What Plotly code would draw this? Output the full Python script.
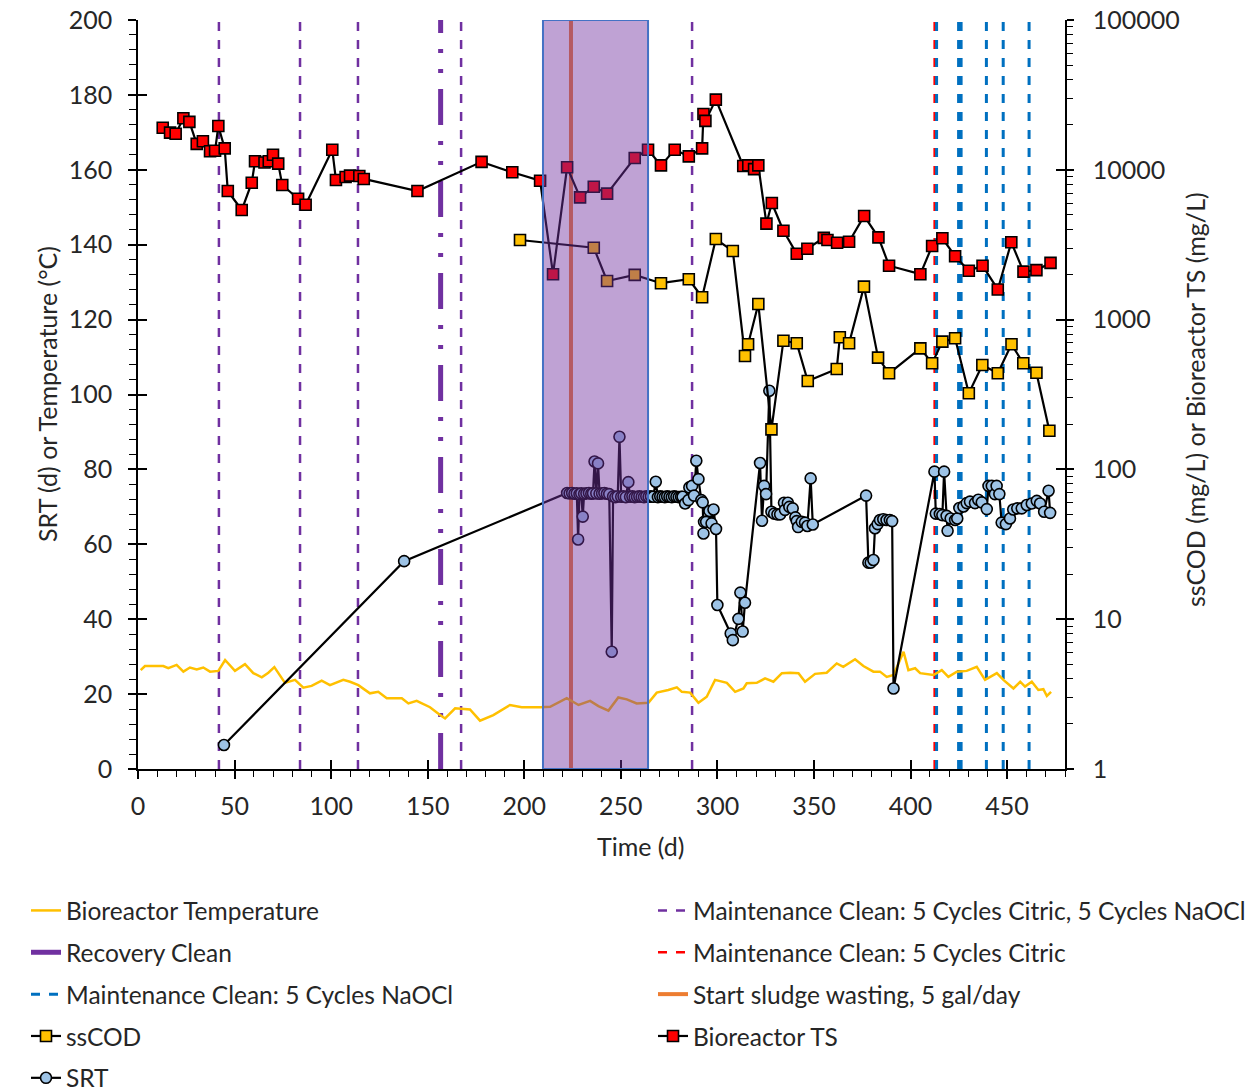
import plotly.graph_objects as go

# ---------------- data ----------------
ts_day = [12.8, 16.6, 19.5, 23.5, 26.6, 30.4, 33.6, 37.3, 39.9, 41.6, 44.9, 46.5, 53.7, 58.9, 60.6,
          65.5, 67.7, 69.9, 72.6, 74.7, 82.9, 86.8, 100.6, 102.5, 107.5, 109.8, 114.6, 116.9, 144.7,
          177.9, 193.8, 208.2, 214.9, 222.2, 228.9, 236.0, 242.9, 257.2, 264.1, 270.8, 277.9, 285.2,
          292.1, 292.8, 293.8, 299.2, 313.4, 316.0, 319.0, 321.2, 325.4, 328.2, 334.2, 341.1, 346.6,
          355.1, 357.0, 362.0, 368.2, 376.0, 383.4, 388.9, 405.1, 411.2, 416.5, 423.1, 430.2, 437.3,
          445.2, 452.2, 458.5, 465.2, 472.5]
ts_val = [19100, 17700, 17400, 22100, 20900, 14900, 15500, 13300, 13400, 19600, 13900, 7220, 5390, 8200, 11400,
          11200, 11400, 12600, 11000, 7920, 6410, 5850, 13600, 8550, 8950, 9140, 9100, 8690, 7220,
          11300, 9620, 8460, 2010, 10400, 6550, 7710, 6930, 12000, 13600, 10700, 13600, 12300,
          13900, 23600, 21200, 29400, 10600, 10700, 10100, 10700, 4370, 6000, 3920, 2750, 2970,
          3510, 3400, 3260, 3310, 4920, 3540, 2290, 2010, 3100, 3490, 2650, 2120, 2290,
          1590, 3280, 2090, 2140, 2390]

cod_day = [197.8, 236.0, 242.9, 257.2, 270.8, 285.2, 292.1, 299.2, 308.0, 314.3, 315.9, 321.2, 328.0,
           334.2, 341.1, 346.8, 361.8, 363.4, 368.2, 375.9, 383.2, 388.9, 405.1, 411.2, 416.5, 423.1,
           430.2, 437.2, 445.2, 452.3, 458.4, 465.2, 471.9]
cod_val = [3400, 3020, 1810, 1990, 1750, 1860, 1410, 3450, 2870, 571, 684, 1270, 185,
           723, 695, 389, 468, 762, 695, 1660, 557, 438, 643, 511, 713, 750,
           322, 498, 438, 684, 511, 442, 181]

srt_day = [44.5, 137.8, 222.2, 223.5, 224.8, 226.0, 227.2, 227.9, 228.6, 229.5, 230.3, 231.0, 232.2, 233.5,
           234.7, 235.6, 236.4, 237.3, 238.2, 239.0, 240.3, 241.5, 242.8, 244.0, 245.3, 246.0, 247.2,
           248.4, 249.3, 250.2, 251.4, 252.6, 253.9, 254.8, 256.0, 257.2, 258.4, 259.6, 260.8, 262.0,
           263.2, 264.4, 265.6, 266.8, 268.1, 269.2, 270.4, 271.6, 272.8, 274.0, 275.2, 276.4, 277.6,
           278.8, 280.0, 281.2, 282.0, 283.3, 285.0, 285.5, 286.9, 287.9, 289.1, 290.2, 291.7, 292.4,
           292.8, 293.1, 294.2, 295.9, 297.0, 298.0, 299.3, 300.0, 306.9, 308.0, 310.9, 311.9, 313.1,
           314.3, 322.1, 323.1, 324.2, 325.2, 326.9, 328.0, 329.4, 331.1, 332.5, 334.5, 335.0, 336.5,
           337.3, 339.0, 340.4, 341.1, 341.8, 343.7, 345.4, 346.6, 348.3, 349.4, 377.0, 378.2, 379.4,
           380.8, 381.6, 383.0, 384.2, 385.9, 387.6, 389.3, 390.5, 391.2, 412.4, 413.1, 415.2, 416.5,
           417.4, 418.7, 419.2, 420.8, 423.1, 424.2, 425.3, 427.4, 429.1, 430.8, 433.4, 435.1, 436.9,
           439.5, 440.4, 442.1, 443.7, 444.6, 446.0, 447.2, 449.4, 451.5, 453.2, 455.3, 457.6, 460.2,
           462.8, 465.4, 467.1, 469.2, 471.5, 472.3]
srt_val = [6.4, 55.5, 73.7, 73.6, 73.7, 73.5, 73.6, 61.3, 73.4, 73.6, 67.4, 73.5, 73.6, 73.7,
           73.5, 73.6, 82.1, 73.6, 81.6, 73.5, 73.6, 73.7, 73.5, 73.4, 31.3, 72.8, 72.6,
           72.8, 88.7, 72.7, 72.8, 72.6, 76.6, 72.7, 72.8, 72.6, 72.7, 72.8, 72.7, 72.6,
           72.8, 72.7, 72.8, 72.7, 76.7, 72.6, 72.8, 72.7, 72.6, 72.8, 72.7, 72.6, 72.8,
           72.7, 72.6, 72.7, 72.7, 70.9, 71.8, 75.2, 75.6, 73.0, 82.3, 77.4, 71.8, 71.2,
           62.9, 66.0, 66.0, 68.9, 65.6, 69.3, 64.1, 43.8, 36.2, 34.4, 40.1, 47.1, 36.7,
           44.4, 81.7, 66.3, 75.6, 73.4, 101.0, 68.7, 68.2, 68.0, 68.0, 71.1, 69.2, 71.1,
           70.0, 69.6, 67.2, 66.2, 64.6, 66.0, 65.8, 64.9, 77.6, 65.3, 73.0, 55.1, 55.1,
           55.8, 64.3, 65.4, 66.5, 66.7, 66.5, 66.5, 66.2, 21.5, 79.4, 68.2, 68.1, 67.8,
           79.4, 67.6, 63.6, 66.9, 66.5, 66.9, 69.7, 70.1, 71.0, 71.4, 71.0, 71.9, 71.2,
           69.4, 75.6, 75.6, 73.4, 75.6, 73.4, 65.8, 65.4, 66.9, 69.3, 69.6, 69.6, 70.5,
           70.9, 71.6, 70.9, 68.7, 74.3, 68.4]

temp_day = [1.4, 3.6, 13.1, 15.7, 20.0, 23.5, 26.9, 30.4, 33.8, 37.3, 41.6, 45.1, 50.2, 55.4, 59.7,
            64.1, 67.5, 70.6, 76.1, 81.3, 85.6, 89.9, 95.1, 99.4, 106.3, 109.8, 114.1, 120.1, 124.4,
            128.8, 136.6, 140.0, 144.3, 151.2, 156.4, 159.0, 164.2, 171.9, 177.1, 184.0, 192.6, 198.7,
            208.2, 213.4, 222.0, 228.1, 234.1, 238.4, 243.6, 248.7, 253.1, 258.2, 264.3, 268.6, 274.6,
            279.0, 281.6, 285.9, 290.2, 294.5, 298.8, 304.9, 309.2, 313.5, 315.2, 320.4, 324.7, 329.0,
            333.4, 337.7, 342.0, 345.4, 350.6, 356.6, 361.8, 365.2, 371.3, 375.6, 380.8, 384.2, 387.7,
            391.2, 396.4, 398.9, 402.4, 405.0, 411.9, 416.2, 419.6, 424.0, 429.1, 434.3, 438.6, 444.7,
            448.1, 453.3, 456.8, 459.3, 462.8, 466.2, 468.8, 470.6, 472.8]
temp_val = [26.4, 27.5, 27.5, 26.9, 27.8, 26.0, 27.1, 26.6, 27.1, 26.0, 26.2, 29.1, 26.2, 28.0, 25.6,
            24.5, 25.7, 27.2, 23.0, 23.8, 21.7, 22.2, 23.6, 22.4, 23.8, 23.3, 22.4, 20.2, 20.6,
            18.9, 18.9, 17.5, 18.2, 16.5, 14.4, 13.5, 16.2, 15.9, 12.9, 14.4, 17.1, 16.5,
            16.5, 16.6, 18.9, 17.1, 18.2, 16.8, 15.6, 19.1, 18.6, 17.5, 17.7, 20.4, 21.1,
            21.8, 20.6, 20.4, 17.7, 19.3, 23.8, 23.0, 20.6, 21.5, 22.9, 23.0, 24.2, 23.3,
            25.6, 25.7, 25.6, 23.3, 25.4, 25.7, 28.2, 27.3, 29.3, 27.5, 26.0, 26.0, 24.6,
            25.1, 31.3, 26.4, 26.9, 25.6, 25.1, 26.4, 24.6, 26.0, 26.2, 27.3, 23.8, 25.6,
            23.8, 21.5, 23.3, 22.0, 23.3, 21.1, 21.3, 19.5, 20.6]

maint_both_days = [41.9, 83.9, 113.9, 167.3, 286.9]
recovery_days = [156.7]
maint_citric_days = [412.5]
maint_naocl_days = [413.5, 424.9, 426.2, 439.3, 448.0, 461.4]
sludge_days = [224.2]
shade_days = [209.7, 264.1]

x_title = "Time (d)"
y_title = "SRT (d) or Temperature (°C)"
y2_title = "ssCOD (mg/L) or Bioreactor TS (mg/L)"

X_MAX = 480
Y_MAX = 200

FONT = "Lato"
TXT = "#262626"


def vlines(days):
    xs, ys = [], []
    for d in days:
        xs += [d, d, None]
        ys += [0, Y_MAX, None]
    return xs, ys


fig = go.Figure()

# vertical event lines
x, y = vlines(maint_both_days)
fig.add_trace(go.Scatter(x=x, y=y, mode="lines", name="Maintenance Clean: 5 Cycles Citric, 5 Cycles NaOCl",
                         line=dict(color="#7030A0", width=2.5, dash="9px,9px"), legend="legend2", legendrank=1,
                         hoverinfo="skip"))
x, y = vlines(recovery_days)
fig.add_trace(go.Scatter(x=x, y=y, mode="lines", name="Recovery Clean",
                         line=dict(color="#7030A0", width=5, dash="36px,16px,4px,16px,4px,16px"),
                         legend="legend", legendrank=2, hoverinfo="skip"))
x, y = vlines(maint_citric_days)
fig.add_trace(go.Scatter(x=x, y=y, mode="lines", name="Maintenance Clean: 5 Cycles Citric",
                         line=dict(color="#FF0000", width=2.5, dash="9px,9px"), legend="legend2", legendrank=2,
                         hoverinfo="skip"))
x, y = vlines(maint_naocl_days)
fig.add_trace(go.Scatter(x=x, y=y, mode="lines", name="Maintenance Clean: 5 Cycles NaOCl",
                         line=dict(color="#0070C0", width=3, dash="9px,9px"), legend="legend", legendrank=3,
                         hoverinfo="skip"))
x, y = vlines(sludge_days)
fig.add_trace(go.Scatter(x=x, y=y, mode="lines", name="Start sludge wasting, 5 gal/day",
                         line=dict(color="#ED7D31", width=4), legend="legend2", legendrank=3,
                         hoverinfo="skip"))

# temperature
fig.add_trace(go.Scatter(x=temp_day, y=temp_val, mode="lines", name="Bioreactor Temperature",
                         line=dict(color="#FFC000", width=2.5), legend="legend", legendrank=1))

# TS and ssCOD on log axis
fig.add_trace(go.Scatter(x=ts_day, y=ts_val, mode="lines+markers", name="Bioreactor TS", yaxis="y2",
                         line=dict(color="black", width=2.2),
                         marker=dict(symbol="square", size=11, color="#FF0000", line=dict(color="black", width=1.6)),
                         legend="legend2", legendrank=4))
fig.add_trace(go.Scatter(x=cod_day, y=cod_val, mode="lines+markers", name="ssCOD", yaxis="y2",
                         line=dict(color="black", width=2.2),
                         marker=dict(symbol="square", size=11, color="#FFC000", line=dict(color="black", width=1.6)),
                         legend="legend", legendrank=4))

# SRT
fig.add_trace(go.Scatter(x=srt_day, y=srt_val, mode="lines+markers", name="SRT",
                         line=dict(color="black", width=2.2),
                         marker=dict(symbol="circle", size=11, color="#9DC3E6", line=dict(color="black", width=1.6)),
                         legend="legend", legendrank=5))

# dummy traces so the overlay (inner tick) axes render
fig.add_trace(go.Scatter(x=[None], y=[None], xaxis="x2", yaxis="y", showlegend=False, hoverinfo="skip"))
fig.add_trace(go.Scatter(x=[None], y=[None], xaxis="x", yaxis="y3", showlegend=False, hoverinfo="skip"))
fig.add_trace(go.Scatter(x=[None], y=[None], xaxis="x", yaxis="y4", showlegend=False, hoverinfo="skip"))

# shaded period (drawn above the data)
fig.add_shape(type="rect", xref="x", yref="y", x0=shade_days[0], x1=shade_days[1], y0=0, y1=Y_MAX,
              fillcolor="rgba(112,48,160,0.45)", line=dict(color="#4472C4", width=2), layer="above")

axis_font = dict(family=FONT, size=25, color=TXT)
leg_font = dict(family=FONT, size=24.5, color=TXT)

# axis titles
fig.add_annotation(text=x_title, xref="paper", yref="paper", x=0.5426, y=-0.1028, showarrow=False,
                   font=axis_font, xanchor="center", yanchor="middle")
fig.add_annotation(text=y_title, xref="paper", yref="paper", x=-0.0982, y=0.5007, showarrow=False,
                   font=axis_font, textangle=-90, xanchor="center", yanchor="middle")
fig.add_annotation(text=y2_title, xref="paper", yref="paper", x=1.1402, y=0.494, showarrow=False,
                   font=axis_font, textangle=-90, xanchor="center", yanchor="middle")

fig.update_layout(
    width=1260, height=1091,
    margin=dict(l=130, r=203, t=12, b=330, autoexpand=False),
    paper_bgcolor="white", plot_bgcolor="white",
    font=dict(family=FONT, size=25, color=TXT),
    xaxis=dict(range=[0, X_MAX], tick0=0, dtick=50, ticks="outside", ticklen=8, tickwidth=1.5,
               tickcolor="black", showline=True, linecolor="black", linewidth=1.5, showgrid=False,
               zeroline=False, tickfont=axis_font, ticklabelstandoff=6, ticklabeloverflow="allow",
               minor=dict(dtick=10, ticks="outside", ticklen=6, tickwidth=1.2, tickcolor="black", showgrid=False)),
    xaxis2=dict(range=[0, X_MAX], overlaying="x", anchor="y", tick0=0, dtick=50, ticks="inside", ticklen=9,
                tickwidth=1.5, tickcolor="black", showticklabels=False, showline=False, showgrid=False,
                zeroline=False),
    yaxis=dict(range=[0, Y_MAX], dtick=20, ticks="outside", ticklen=8, tickwidth=1.5, tickcolor="black",
               showline=True, linecolor="black", linewidth=1.5, showgrid=False, zeroline=False,
               tickfont=axis_font, ticklabelstandoff=11, ticklabeloverflow="allow",
               minor=dict(dtick=4, ticks="outside", ticklen=7, tickwidth=1.2, tickcolor="black", showgrid=False)),
    yaxis3=dict(range=[0, Y_MAX], overlaying="y", side="left", anchor="x", dtick=20, ticks="inside",
                ticklen=9, tickwidth=1.5, tickcolor="black", showticklabels=False, showline=False,
                showgrid=False, zeroline=False),
    yaxis2=dict(type="log", range=[0, 5], overlaying="y", side="right", anchor="x", dtick=1,
                tickvals=[1, 10, 100, 1000, 10000, 100000],
                ticktext=["1", "10", "100", "1000", "10000", "100000"],
                ticks="outside", ticklen=7, tickwidth=1.5, tickcolor="black", showline=True, linecolor="black",
                linewidth=1.5, showgrid=False, zeroline=False, tickfont=axis_font, ticklabelstandoff=14,
                ticklabeloverflow="allow",
                minor=dict(dtick="D1", ticks="outside", ticklen=6, tickwidth=1.2, tickcolor="black", showgrid=False)),
    yaxis4=dict(type="log", range=[0, 5], overlaying="y", side="right", anchor="x", dtick=1,
                ticks="inside", ticklen=9, tickwidth=1.5, tickcolor="black", showticklabels=False,
                showline=False, showgrid=False, zeroline=False),
    legend=dict(xref="container", yref="container", x=18 / 1260, y=1 - 880 / 1091,
                xanchor="left", yanchor="top", orientation="v",
                font=leg_font, tracegroupgap=7, bgcolor="rgba(0,0,0,0)", traceorder="grouped"),
    legend2=dict(xref="container", yref="container", x=645 / 1260, y=1 - 880 / 1091,
                 xanchor="left", yanchor="top", orientation="v",
                 font=leg_font, tracegroupgap=7, bgcolor="rgba(0,0,0,0)", traceorder="grouped"),
    showlegend=True,
)

# each legend item in its own group so tracegroupgap spaces the rows
for i, tr in enumerate(fig.data):
    tr.legendgroup = f"g{i}"

fig.write_html("out.html")
